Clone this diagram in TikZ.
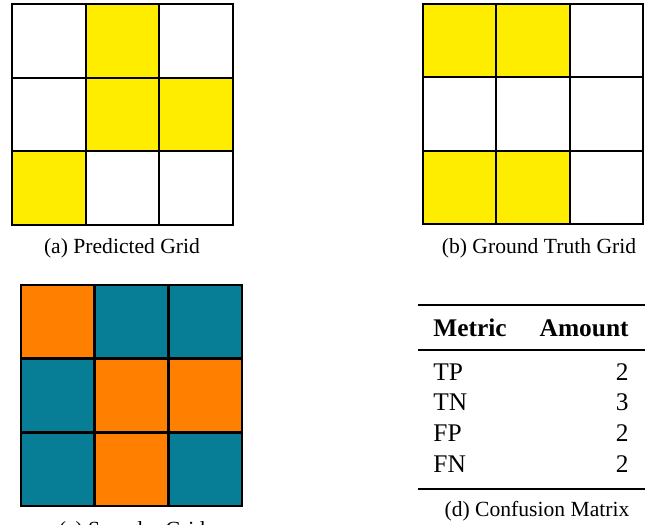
\documentclass[tikz,border=0pt]{standalone}
\usepackage{fontspec}
\setmainfont{Liberation Serif}

\definecolor{cellyellow}{RGB}{255,237,0}
\definecolor{cellorange}{RGB}{255,128,0}
\definecolor{cellteal}{RGB}{7,125,150}

% 3x3 grid: #1 left, #2 top, #3 cell size, #4 fills row by row
\newcommand{\cellgrid}[4]
{
  \foreach \c [count=\i from 0] in {#4}
  {
    \pgfmathtruncatemacro{\col}{mod(\i,3)}
    \pgfmathtruncatemacro{\row}{div(\i,3)}
    \filldraw[fill=\c] (#1+\col*#3, #2+\row*#3) rectangle ++(#3,#3);
  }
}

\begin{document}
\begin{tikzpicture}
    [
      x=0.5pt,
      y=-0.5pt,
      thin grid/.style=
      {
        line width=0.9pt,
        draw=black,
      },
      thick grid/.style=
      {
        line width=1.4pt,
        draw=black,
      },
      caption/.style=
      {
        anchor=base,
        inner sep=0pt,
        text=black,
        font=\fontsize{10.8}{13}\selectfont
      },
      cell/.style=
      {
        inner sep=0pt,
        text=black,
        font=\fontsize{12.7}{15}\selectfont
      },
      head/.style=
      {
        cell,
        font=\fontsize{12.7}{15}\selectfont\bfseries
      },
      heavyrule/.style={line width=1pt},
      lightrule/.style={line width=0.6pt}
    ]
    \clip (0,0) rectangle (657,524);
    \fill[white] (0,0) rectangle (657,524);

    % predicted and ground truth
    \begin{scope}[thin grid]
      \cellgrid{12}{4}{73.67}{white,cellyellow,white,white,cellyellow,cellyellow,cellyellow,white,white}
      \cellgrid{423}{4}{73.33}{cellyellow,cellyellow,white,white,white,white,cellyellow,cellyellow,white}
    \end{scope}
    \node[caption](CapPred) at (122,253) {(a) Predicted Grid};
    \node[caption](CapTruth) at (539,253) {(b) Ground Truth Grid};

    % sampled grid
    \begin{scope}[thick grid]
      \cellgrid{21}{285}{73.67}{cellorange,cellteal,cellteal,cellteal,cellorange,cellorange,cellteal,cellorange,cellteal}
    \end{scope}
    \node[caption](CapSample) at (132,536) {(c) Sampler Grid};

    % confusion matrix table
    \draw[heavyrule] (418,305) -- (645,305);
    \node[head, anchor=base west](Metric) at (433,336) {Metric};
    \node[head, anchor=base east](Amount) at (629,336) {Amount};
    \draw[lightrule] (418,350) -- (645,350);
    \foreach \name/\val [count=\k from 0] in {TP/2,TN/3,FP/2,FN/2}
    {
      \node[cell, anchor=base west](M\name) at (433,380+\k*30.7) {\name};
      \node[cell, anchor=base east](V\name) at (629,380+\k*30.7) {\val};
    }
    \draw[heavyrule] (418,489) -- (645,489);
    \node[caption](CapTable) at (537,516) {(d) Confusion Matrix};
  \end{tikzpicture}
\end{document}
